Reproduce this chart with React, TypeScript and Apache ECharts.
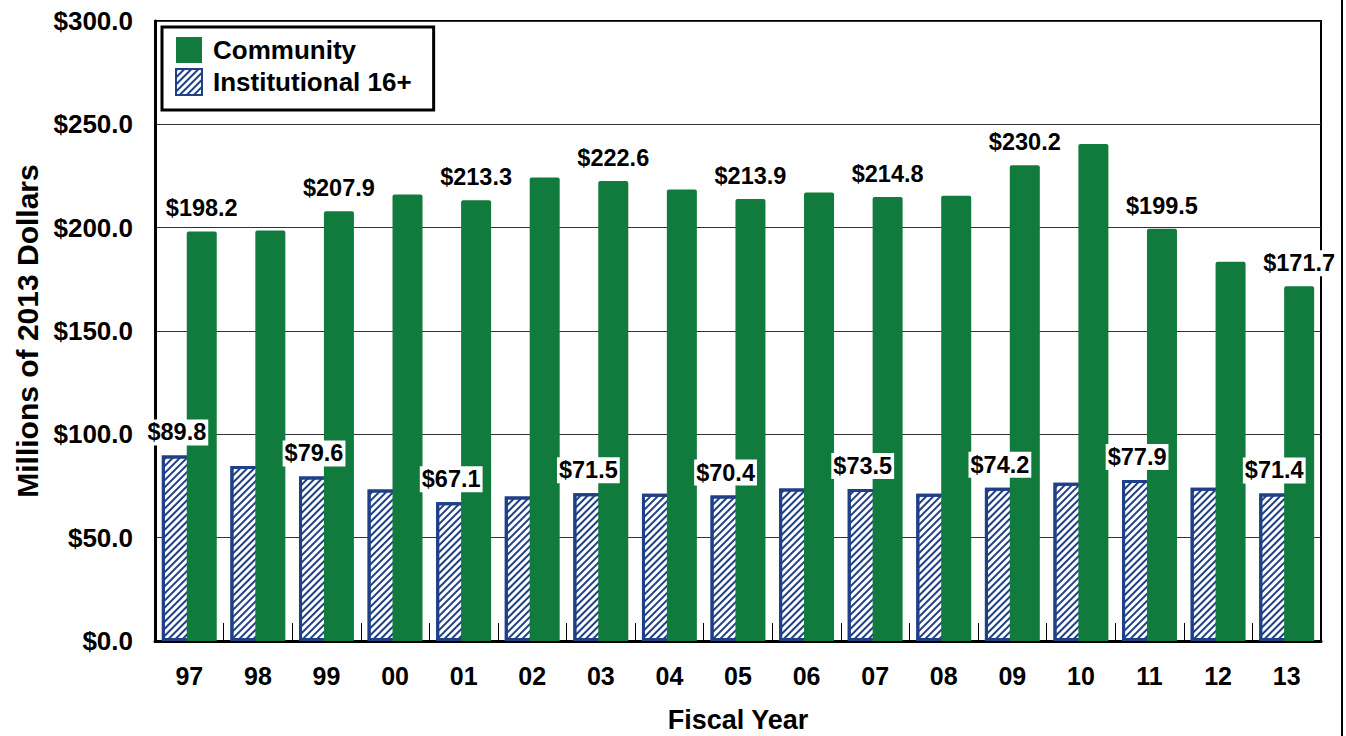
import React, { useEffect, useRef } from "react";
import * as echarts from "echarts";

const years = ["97", "98", "99", "00", "01", "02", "03", "04", "05", "06", "07", "08", "09", "10", "11", "12", "13"];
const community = [198.2, 198.6, 207.9, 216.0, 213.3, 224.3, 222.6, 218.5, 213.9, 217.0, 214.8, 215.5, 230.2, 240.5, 199.5, 183.5, 171.7];
const institutional = [89.8, 84.7, 79.6, 73.3, 67.1, 69.9, 71.5, 71.3, 70.4, 73.8, 73.5, 71.2, 74.2, 76.6, 77.9, 74.2, 71.4];
const labelledYears = ["97", "99", "01", "03", "05", "07", "09", "11", "13"];
const yTicks = [0, 50, 100, 150, 200, 250, 300];

const FONT = 'Arial, "Liberation Sans", sans-serif';
const GREEN = "#117a3d";
const NAVY = "#1f3f86";

export default function App() {
  const ref = useRef<HTMLDivElement>(null);
  useEffect(() => {
    document.body.style.margin = "0";
    const chart = echarts.init(ref.current!, null, { renderer: "svg" });
    const labelStyle = {
      position: "top",
      distance: 10,
      fontFamily: FONT,
      fontSize: 23.5,
      fontWeight: "bold",
      color: "#000",
      backgroundColor: "#fff",
      padding: [1, 2],
      formatter: (p: any) => `$${Number(p.value).toFixed(1)}`,
    };
    const mk = (arr: number[]) =>
      arr.map((v, i) => ({ value: v, label: { show: labelledYears.includes(years[i]) } }));
    chart.setOption({
      animation: false,
      backgroundColor: "#fff",
      textStyle: { fontFamily: FONT },
      grid: {
        left: 155,
        right: 25,
        top: 21,
        bottom: 95,
        show: true,
        borderColor: "#000",
        borderWidth: 2,
        containLabel: false,
        outerBoundsMode: "none",
      },
      legend: {
        left: 162,
        top: 27,
        orient: "vertical",
        data: ["Community", "Institutional 16+"],
        icon: "rect",
        itemWidth: 26,
        itemHeight: 26,
        itemGap: 5,
        padding: [10, 22, 14, 13],
        backgroundColor: "#fff",
        borderColor: "#000",
        borderWidth: 3,
        textStyle: { fontFamily: FONT, fontSize: 26, fontWeight: "bold", color: "#000", padding: [0, 0, 0, 6] },
      },
      xAxis: {
        type: "category",
        data: years,
        name: "Fiscal Year",
        nameLocation: "middle",
        nameGap: 65,
        nameTextStyle: { fontFamily: FONT, fontSize: 27, fontWeight: "bold", color: "#000" },
        axisLine: { lineStyle: { color: "#000", width: 3 } },
        axisTick: { show: true, inside: true, length: 18, lineStyle: { color: "#000", width: 1 } },
        axisLabel: { fontFamily: FONT, fontSize: 25, fontWeight: "bold", color: "#000", margin: 22 },
      },
      yAxis: {
        type: "value",
        min: yTicks[0],
        max: yTicks[yTicks.length - 1],
        interval: 50,
        name: "Millions of 2013 Dollars",
        nameLocation: "middle",
        nameGap: 112,
        nameTextStyle: { fontFamily: FONT, fontSize: 30, fontWeight: "bold", color: "#000" },
        axisLine: { show: true, lineStyle: { color: "#000", width: 3 } },
        axisTick: { show: false },
        splitLine: { lineStyle: { color: "#333", width: 1 } },
        axisLabel: {
          fontFamily: FONT,
          fontSize: 26,
          fontWeight: "bold",
          color: "#000",
          margin: 22,
          formatter: (v: number) => `$${v.toFixed(1)}`,
        },
      },
      series: [
        {
          name: "Institutional 16+",
          type: "bar",
          data: mk(institutional),
          barWidth: 30,
          barGap: "-17%",
          itemStyle: {
            color: "#fff",
            borderColor: NAVY,
            borderWidth: 3,
            decal: {
              symbol: "rect",
              symbolSize: 1,
              color: NAVY,
              backgroundColor: "#fff",
              dashArrayX: [1, 0],
              dashArrayY: [2, 3],
              rotation: -Math.PI / 4,
            },
          },
          label: labelStyle,
        },
        {
          name: "Community",
          type: "bar",
          data: mk(community),
          barWidth: 30,
          itemStyle: { color: GREEN, borderRadius: [2, 2, 0, 0] },
          label: labelStyle,
        },
      ],
      graphic: [
        { type: "rect", left: 1341, top: 0, shape: { width: 2, height: 736 }, style: { fill: "#000" } },
      ],
    });
    return () => chart.dispose();
  }, []);
  return <div ref={ref} style={{ width: 1346, height: 736 }} />;
}
